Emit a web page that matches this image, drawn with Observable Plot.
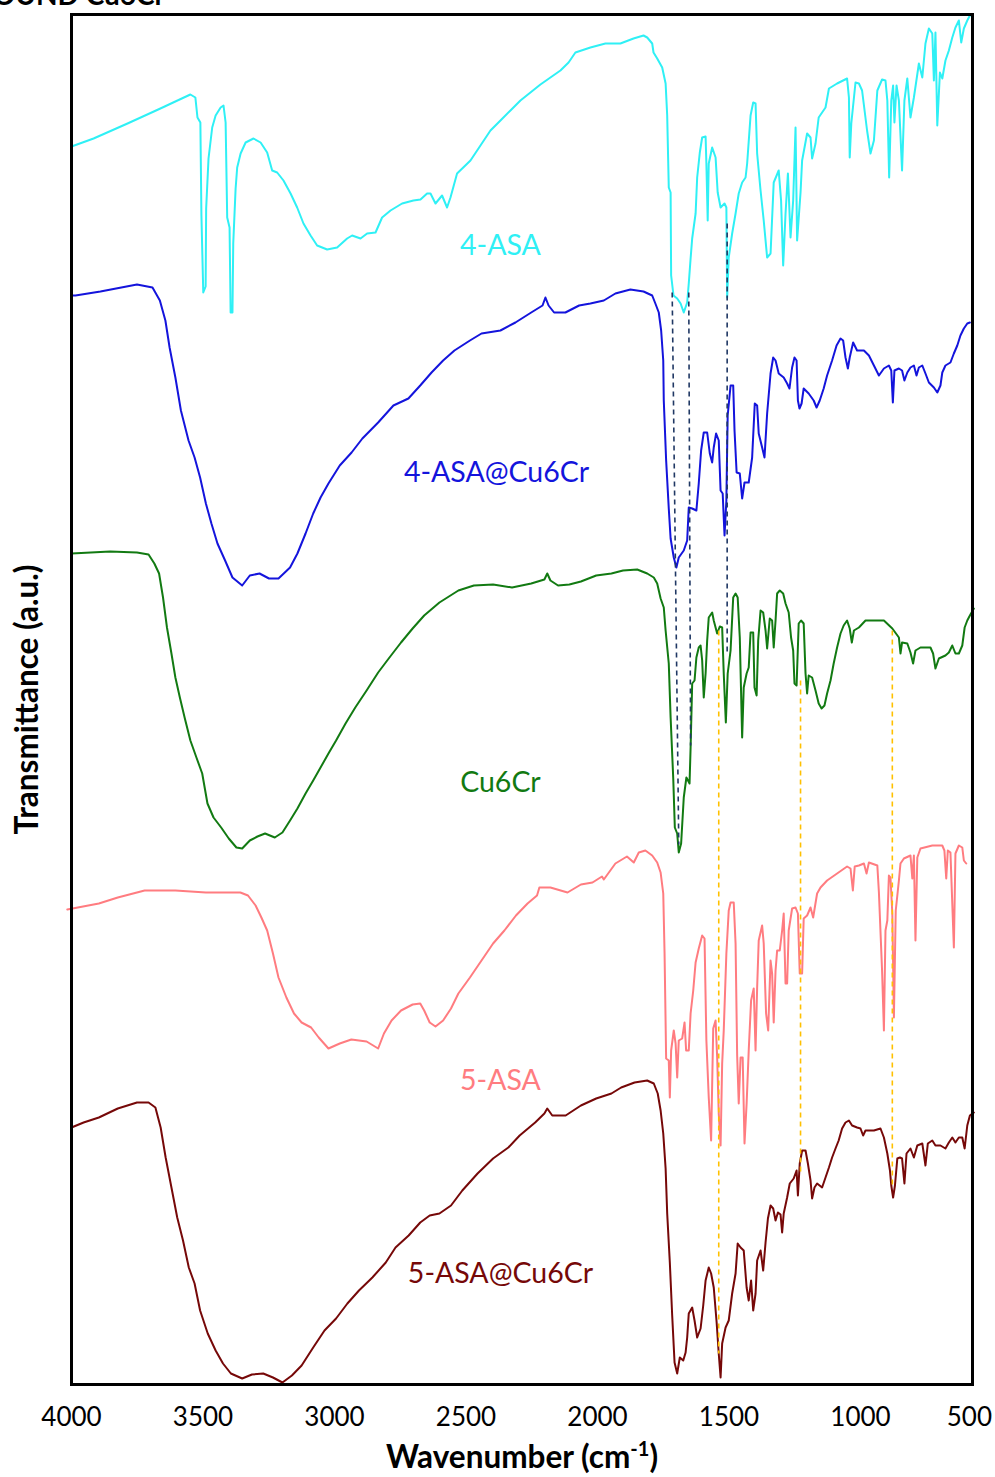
<!DOCTYPE html>
<html>
<head>
<meta charset="utf-8">
<script src="https://cdn.jsdelivr.net/npm/d3@7"></script>
<script src="https://cdn.jsdelivr.net/npm/@observablehq/plot@0.6"></script>
<style>
  body { margin: 0; background: #fff; }
  #wrap { position: relative; width: 995px; height: 1477px; overflow: hidden; }
  #title { position: absolute; right: 830px; top: -23px; font: bold 28px Lato, sans-serif; white-space: nowrap; color: #000; }
  #chart { position: absolute; left: 0; top: 0; }
</style>
</head>
<body>
<div id="wrap">
  <div id="chart"></div>
  <div id="title">COMPOUND Cu6Cr</div>
</div>
<script>
// FTIR spectra: [wavenumber (cm-1), transmittance (a.u., stacked offsets)]
const asa4 = [[4000,123.8],[3916,124.6],[3787,126.1],[3662,127.6],[3597,128.4],[3548,129.0],[3529,128.7],[3521,126.7],[3510,126.2],[3506,116.9],[3499,109.2],[3490,109.8],[3488,117.6],[3479,122.6],[3465,125.7],[3452,126.9],[3433,127.7],[3422,127.9],[3414,126.2],[3408,116.7],[3399,115.7],[3395,107.2],[3388,107.2],[3385,114.1],[3376,119.6],[3370,121.7],[3357,123.1],[3338,124.2],[3308,124.6],[3281,124.2],[3256,123.2],[3237,121.4],[3218,121.2],[3194,120.4],[3167,119.1],[3142,117.7],[3118,116.1],[3091,114.9],[3066,113.9],[3028,113.5],[2990,113.7],[2952,114.6],[2933,114.9],[2901,114.6],[2876,115.1],[2844,115.2],[2819,116.7],[2787,117.4],[2743,118.1],[2700,118.4],[2673,118.5],[2648,119.1],[2635,119.1],[2616,118.1],[2591,118.9],[2572,117.7],[2559,118.7],[2534,121.1],[2483,122.4],[2445,123.9],[2407,125.4],[2369,126.4],[2331,127.4],[2293,128.4],[2255,129.2],[2217,130.0],[2179,130.7],[2141,131.4],[2110,132.2],[2084,133.2],[2027,133.7],[1970,134.1],[1913,134.1],[1863,134.6],[1825,134.9],[1811,134.7],[1792,134.1],[1787,133.2],[1773,132.6],[1754,131.7],[1741,130.1],[1735,126.9],[1729,119.7],[1722,119.2],[1720,110.9],[1711,108.9],[1697,108.6],[1684,108.1],[1672,107.2],[1659,108.2],[1653,110.1],[1646,112.6],[1640,114.6],[1627,117.1],[1621,120.7],[1611,123.2],[1602,124.7],[1589,124.8],[1586,122.1],[1581,116.4],[1577,122.1],[1564,123.7],[1551,122.7],[1543,119.2],[1532,117.7],[1517,118.1],[1510,117.7],[1507,108.7],[1501,112.7],[1488,115.1],[1475,117.1],[1463,119.1],[1450,120.2],[1437,120.7],[1431,122.1],[1418,126.9],[1408,128.2],[1399,128.1],[1393,123.1],[1380,119.4],[1368,116.4],[1355,112.7],[1342,113.1],[1330,120.2],[1311,121.4],[1302,118.4],[1294,111.9],[1285,117.1],[1276,121.1],[1266,114.7],[1256,118.4],[1247,125.7],[1241,114.4],[1228,119.2],[1222,122.4],[1203,125.1],[1190,124.7],[1184,122.6],[1171,124.1],[1159,126.7],[1146,127.2],[1133,127.7],[1120,129.6],[1089,130.1],[1051,130.6],[1044,128.7],[1041,122.7],[1035,126.1],[1019,130.2],[1006,130.1],[994,129.4],[975,125.4],[962,123.1],[949,124.4],[936,129.4],[918,130.5],[905,130.4],[898,128.4],[891,120.7],[883,128.4],[876,129.9],[871,126.2],[863,129.9],[854,128.4],[842,121.4],[833,128.4],[822,130.6],[810,126.7],[797,128.7],[778,132.1],[765,130.7],[753,134.1],[740,135.6],[727,135.1],[721,130.4],[715,135.2],[708,125.9],[698,131.2],[689,130.6],[677,132.4],[664,133.4],[651,134.7],[639,135.7],[626,136.4],[617,134.2],[607,135.6],[594,136.4],[584,136.9],[574,137.0]];

const asa4Cu6Cr = [[4000,108.9],[3985,108.9],[3890,109.3],[3751,110.0],[3692,109.7],[3664,108.4],[3643,106.4],[3627,103.7],[3605,100.7],[3584,97.4],[3555,94.4],[3532,92.7],[3511,90.7],[3489,88.1],[3468,86.1],[3445,84.1],[3416,82.4],[3388,80.7],[3351,79.9],[3322,80.9],[3285,81.1],[3249,80.6],[3213,80.6],[3169,81.7],[3141,83.1],[3110,85.1],[3081,87.1],[3053,88.7],[3023,90.1],[2980,91.9],[2935,93.2],[2894,94.6],[2834,96.2],[2776,97.9],[2719,98.6],[2674,99.9],[2631,101.2],[2587,102.4],[2544,103.4],[2485,104.4],[2441,105.1],[2369,105.4],[2312,106.2],[2252,107.2],[2209,107.9],[2198,108.7],[2186,107.9],[2165,107.2],[2122,107.2],[2070,107.9],[2027,108.1],[1976,108.4],[1932,109.1],[1875,109.5],[1825,109.3],[1792,108.9],[1780,108.1],[1767,107.2],[1758,105.4],[1750,102.4],[1748,98.4],[1739,92.4],[1729,87.6],[1722,84.6],[1710,82.7],[1700,81.7],[1691,82.7],[1672,83.4],[1659,84.4],[1653,87.7],[1640,87.6],[1624,87.4],[1615,90.1],[1606,93.4],[1596,95.2],[1583,95.2],[1573,93.1],[1564,92.2],[1558,93.7],[1549,95.1],[1539,94.4],[1532,89.4],[1524,89.1],[1517,84.9],[1510,88.4],[1505,96.9],[1494,99.9],[1484,99.9],[1479,95.4],[1471,91.2],[1459,91.1],[1450,88.6],[1441,90.2],[1425,90.2],[1412,92.7],[1402,98.1],[1393,97.9],[1387,95.1],[1374,93.7],[1365,92.7],[1355,97.1],[1342,101.1],[1332,102.7],[1323,102.4],[1311,101.1],[1292,100.7],[1279,100.1],[1270,99.6],[1260,101.7],[1251,102.7],[1243,102.4],[1238,98.4],[1232,97.6],[1224,98.1],[1216,99.6],[1197,99.1],[1178,98.4],[1167,97.7],[1155,98.4],[1140,99.6],[1127,100.9],[1108,102.4],[1091,103.9],[1076,104.6],[1066,104.4],[1057,102.7],[1048,101.6],[1041,102.7],[1028,104.2],[1013,103.4],[987,103.4],[968,102.9],[949,101.9],[930,100.9],[911,101.6],[892,101.9],[883,101.4],[877,98.2],[871,101.4],[854,101.6],[842,101.4],[833,100.4],[822,101.2],[810,101.7],[797,101.9],[787,100.9],[778,101.7],[765,101.9],[753,101.1],[740,100.2],[721,99.7],[708,99.2],[696,99.9],[689,101.2],[677,101.9],[658,102.2],[645,103.1],[632,103.9],[620,104.9],[607,105.6],[594,106.1],[584,106.2]];

const cu6Cr = [[4000,83.1],[3853,83.3],[3751,83.2],[3707,83.0],[3685,82.1],[3667,81.1],[3652,78.7],[3637,75.7],[3620,73.1],[3605,70.7],[3588,68.7],[3569,66.6],[3548,64.4],[3525,62.7],[3503,61.1],[3483,58.1],[3460,56.7],[3431,55.7],[3402,54.6],[3373,53.7],[3351,53.6],[3322,54.4],[3293,54.8],[3264,55.1],[3227,54.7],[3198,55.2],[3169,56.4],[3141,57.6],[3110,59.1],[3081,60.4],[3053,61.7],[3023,63.1],[2994,64.4],[2958,66.1],[2921,67.7],[2878,69.4],[2834,71.2],[2791,72.7],[2747,74.2],[2703,75.6],[2659,76.9],[2601,78.2],[2529,79.4],[2470,79.9],[2397,80.0],[2325,79.7],[2252,80.1],[2202,80.5],[2191,81.1],[2179,80.4],[2150,79.9],[2107,80.0],[2063,80.3],[2005,80.9],[1947,81.1],[1903,81.4],[1849,81.5],[1811,81.1],[1786,80.7],[1773,80.1],[1760,78.6],[1748,77.7],[1741,75.4],[1729,72.1],[1722,66.7],[1712,60.6],[1706,55.7],[1697,55.1],[1691,53.2],[1682,54.1],[1672,58.7],[1662,60.7],[1650,60.1],[1646,63.7],[1640,70.1],[1631,70.4],[1624,72.7],[1615,73.7],[1608,73.9],[1602,72.4],[1596,68.7],[1589,71.1],[1583,74.4],[1577,76.7],[1564,77.2],[1558,76.4],[1545,75.1],[1535,75.8],[1526,75.7],[1520,71.1],[1512,66.2],[1505,71.1],[1494,73.4],[1484,78.7],[1475,79.1],[1467,78.7],[1459,74.7],[1450,64.7],[1444,69.7],[1433,71.1],[1425,71.7],[1418,75.2],[1408,75.2],[1403,69.7],[1395,68.9],[1389,74.4],[1380,77.4],[1370,77.2],[1361,75.4],[1355,73.6],[1345,76.6],[1336,76.4],[1330,73.7],[1323,76.4],[1317,79.1],[1307,79.4],[1294,79.1],[1285,78.1],[1273,77.2],[1264,74.7],[1256,73.4],[1251,70.1],[1243,69.9],[1235,76.1],[1226,76.4],[1216,76.1],[1209,71.1],[1203,69.1],[1197,70.9],[1184,70.7],[1171,69.4],[1159,68.1],[1148,67.6],[1137,67.9],[1127,69.1],[1114,70.4],[1102,72.1],[1089,73.7],[1076,75.1],[1064,75.9],[1051,76.4],[1041,75.6],[1033,74.2],[1025,75.4],[1006,75.7],[981,76.4],[949,76.4],[911,76.4],[879,75.6],[854,74.7],[848,73.1],[842,74.2],[822,74.1],[810,73.2],[800,72.1],[791,73.4],[772,73.7],[734,73.7],[724,73.1],[715,71.6],[702,72.6],[677,72.9],[664,73.2],[651,73.9],[639,73.1],[626,73.1],[613,73.9],[604,75.7],[594,76.4],[584,76.9],[569,77.6]];

const asa5 = [[4016,47.5],[3896,48.1],[3824,48.7],[3722,49.4],[3605,49.4],[3489,49.2],[3358,49.2],[3329,48.9],[3300,47.9],[3278,46.7],[3256,45.4],[3234,43.1],[3213,40.7],[3183,38.7],[3154,37.1],[3125,36.2],[3089,35.7],[3060,34.7],[3023,33.6],[2980,34.1],[2936,34.5],[2878,34.3],[2834,33.6],[2812,35.1],[2783,36.4],[2747,37.4],[2703,38.0],[2674,38.1],[2659,37.4],[2638,36.2],[2616,35.8],[2587,36.4],[2557,37.6],[2529,39.1],[2485,40.7],[2441,42.4],[2397,44.1],[2354,45.4],[2310,46.9],[2266,48.1],[2230,48.9],[2221,49.7],[2179,49.7],[2114,49.2],[2063,50.0],[2019,50.2],[1983,50.8],[1976,50.5],[1932,52.1],[1888,52.8],[1875,52.5],[1862,52.2],[1843,53.2],[1818,53.4],[1792,52.9],[1773,52.2],[1760,51.2],[1750,49.1],[1745,43.1],[1739,32.6],[1729,32.4],[1725,28.7],[1720,33.4],[1710,35.4],[1703,34.1],[1697,30.7],[1691,34.4],[1678,34.6],[1669,36.2],[1663,33.4],[1653,33.4],[1646,37.1],[1636,39.4],[1627,42.2],[1615,43.6],[1602,44.9],[1593,44.6],[1586,34.4],[1577,28.7],[1568,24.4],[1560,35.6],[1551,36.4],[1545,32.7],[1539,27.1],[1532,23.9],[1526,32.1],[1520,35.4],[1510,43.1],[1501,47.4],[1494,48.2],[1482,48.2],[1475,44.1],[1469,32.9],[1463,28.1],[1456,32.7],[1448,32.7],[1441,24.1],[1433,28.1],[1425,33.4],[1416,38.4],[1406,39.6],[1399,33.4],[1393,39.7],[1387,44.4],[1374,45.9],[1368,44.1],[1359,37.1],[1351,35.4],[1342,42.4],[1336,41.1],[1330,36.2],[1323,41.4],[1317,43.4],[1307,43.4],[1298,45.4],[1292,47.1],[1285,40.1],[1279,40.1],[1273,45.4],[1260,47.6],[1247,47.7],[1238,47.1],[1231,41.1],[1222,41.1],[1216,46.6],[1203,46.9],[1190,47.7],[1180,46.7],[1165,49.1],[1152,49.7],[1127,50.4],[1089,51.1],[1051,51.8],[1038,51.6],[1029,49.4],[1022,51.8],[1006,51.9],[987,52.1],[977,51.1],[968,52.2],[936,51.9],[930,49.2],[918,41.4],[911,35.4],[905,45.4],[898,46.4],[892,50.9],[886,50.7],[879,47.1],[873,36.7],[866,47.4],[854,50.4],[848,52.1],[835,52.6],[810,52.9],[803,50.6],[797,52.9],[791,44.4],[784,52.7],[772,53.6],[727,53.9],[689,53.9],[681,53.4],[674,50.6],[668,53.4],[658,53.2],[645,43.7],[639,53.1],[626,53.9],[613,53.7],[607,52.4],[598,52.1]];

const asa5Cu6Cr = [[4000,25.7],[3954,26.2],[3896,26.7],[3824,27.6],[3751,28.2],[3707,28.2],[3681,27.7],[3661,25.7],[3642,22.7],[3620,19.7],[3598,16.7],[3576,14.4],[3554,11.7],[3532,10.1],[3511,7.4],[3482,5.1],[3452,3.4],[3424,2.1],[3394,1.1],[3351,0.6],[3314,1.0],[3271,1.1],[3234,0.7],[3198,0.2],[3162,0.9],[3125,1.9],[3081,3.7],[3038,5.4],[2994,6.6],[2951,8.1],[2907,9.4],[2856,10.7],[2805,12.2],[2768,13.7],[2718,14.9],[2674,16.2],[2638,16.9],[2601,17.1],[2557,17.9],[2514,19.4],[2456,21.1],[2397,22.6],[2339,23.7],[2296,24.9],[2237,26.2],[2202,27.1],[2191,27.6],[2172,26.9],[2121,26.9],[2063,27.9],[2005,28.6],[1947,29.1],[1910,29.7],[1859,30.2],[1811,30.4],[1786,30.1],[1771,29.1],[1760,27.4],[1750,25.1],[1741,21.6],[1735,17.1],[1725,12.2],[1716,6.9],[1707,2.2],[1697,1.1],[1687,2.7],[1674,2.4],[1665,3.2],[1659,4.7],[1653,7.1],[1640,7.7],[1631,6.4],[1621,4.7],[1608,5.6],[1598,7.9],[1589,10.4],[1577,11.7],[1568,11.1],[1558,9.7],[1547,6.2],[1539,3.1],[1532,0.7],[1526,4.1],[1513,5.7],[1501,6.4],[1488,9.1],[1475,11.1],[1467,14.1],[1456,13.7],[1444,13.4],[1433,9.7],[1425,8.4],[1416,10.4],[1408,7.4],[1399,9.1],[1393,12.4],[1380,13.4],[1370,11.4],[1361,14.2],[1352,16.6],[1342,17.9],[1332,17.6],[1323,16.4],[1314,17.2],[1304,17.0],[1298,15.2],[1292,17.1],[1279,18.7],[1269,20.1],[1254,20.6],[1243,21.4],[1238,18.9],[1231,22.1],[1222,23.4],[1209,23.4],[1200,22.1],[1190,20.4],[1184,18.6],[1175,19.7],[1165,20.1],[1146,19.7],[1133,20.7],[1120,21.7],[1108,22.7],[1095,23.6],[1083,24.4],[1070,25.6],[1057,26.2],[1044,26.4],[1032,25.9],[1013,25.7],[1000,25.6],[990,24.9],[981,25.4],[949,25.4],[924,25.6],[911,24.7],[898,23.1],[888,21.4],[883,19.9],[876,18.7],[869,19.9],[860,22.6],[850,22.7],[842,22.6],[833,20.1],[825,23.1],[810,23.6],[797,22.7],[784,23.9],[765,24.1],[753,21.9],[744,24.1],[727,24.4],[715,23.9],[696,23.9],[677,23.6],[664,24.2],[651,24.7],[639,24.2],[626,24.7],[613,24.7],[604,23.6],[594,25.9],[584,26.9],[569,27.2]];

// Sample names, trace colours and where each name is written
const sampleNames = ["4-ASA", "4-ASA@Cu6Cr", "Cu6Cr", "5-ASA", "5-ASA@Cu6Cr"];
const sampleColors = ["#2ff0f5", "#1414dc", "#127a12", "#ff7c80", "#760808"];
const labelWave = [2369, 2384, 2369, 2369, 2369];
const labelT = [113.9, 91.2, 60.2, 30.4, 11.1];

// Band guides linking shared absorptions between spectra
const navyGuides = [
  {wave1: 1716, t1: 109.2, wave2: 1691, t2: 54.0},
  {wave1: 1653, t1: 109.2, wave2: 1646, t2: 63.9},
  {wave1: 1507, t1: 116.1, wave2: 1507, t2: 73.1}
];
const goldGuides = [
  {wave1: 1539, t1: 75.4, wave2: 1539, t2: 3.1},
  {wave1: 1228, t1: 70.4, wave2: 1228, t2: 21.1},
  {wave1: 879, t1: 75.4, wave2: 879, t2: 19.7}
];

const waveTicks = [4000, 3500, 3000, 2500, 2000, 1500, 1000, 500];
const xTitle = "Wavenumber (cm-1)";
const yTitle = "Transmittance (a.u.)";

const spectra = [asa4, asa4Cu6Cr, cu6Cr, asa5, asa5Cu6Cr];
const toRows = pts => pts.map(([wave, t]) => ({wave, t}));
const labels = sampleNames.map((name, i) => ({name, wave: labelWave[i], t: labelT[i], color: sampleColors[i]}));

const font = "Lato, 'Open Sans', sans-serif";

const chart = Plot.plot({
  width: 995,
  height: 1477,
  marginTop: 14,
  marginBottom: 93,
  marginLeft: 71,
  marginRight: 23,
  style: {fontFamily: font, fontSize: "26px", background: "#fff", overflow: "visible"},
  x: {domain: [4000, 500], range: [71, 991.5]},
  y: {domain: [0, 137], axis: null},
  marks: [
    ...spectra.map((pts, i) => Plot.line(toRows(pts), {x: "wave", y: "t", stroke: sampleColors[i], strokeWidth: 2})),
    Plot.link(navyGuides, {x1: "wave1", y1: "t1", x2: "wave2", y2: "t2", stroke: "#203864", strokeWidth: 1.6, strokeDasharray: "5,4"}),
    Plot.link(goldGuides, {x1: "wave1", y1: "t1", x2: "wave2", y2: "t2", stroke: "#ffc000", strokeWidth: 1.6, strokeDasharray: "5,4"}),
    Plot.text(labels, {x: "wave", y: "t", text: "name", fill: "color", fontSize: 28.5, fontFamily: font}),
    Plot.frame({stroke: "#000", strokeWidth: 3}),
    Plot.axisX(waveTicks.slice(0, -1), {tickSize: 0, tickPadding: 23, fontSize: 26, label: null, fontFamily: font, tickFormat: d => String(d)}),
    Plot.text(waveTicks.slice(-1), {x: d => d, text: d => String(d), frameAnchor: "bottom", dy: 23, lineAnchor: "top", textAnchor: "end", fontSize: 26, fontFamily: font}),
    Plot.text([xTitle], {text: d => d, frameAnchor: "bottom", dy: 83, fontSize: 31.5, fontWeight: "bold", fontFamily: font}),
    Plot.text([yTitle], {text: d => d, frameAnchor: "left", textAnchor: "middle", dx: -44, rotate: -90, fontSize: 31.5, fontWeight: "bold", fontFamily: font})
  ]
});

// raise the "-1" of the unit into a superscript
d3.select(chart).selectAll("text").filter(function() { return this.textContent === xTitle; }).each(function() {
  const t = d3.select(this);
  t.text(null);
  t.append("tspan").text("Wavenumber (cm");
  t.append("tspan").attr("baseline-shift", "super").attr("font-size", "20px").text("-1");
  t.append("tspan").text(")");
});

document.getElementById("chart").appendChild(chart);
</script>
</body>
</html>
